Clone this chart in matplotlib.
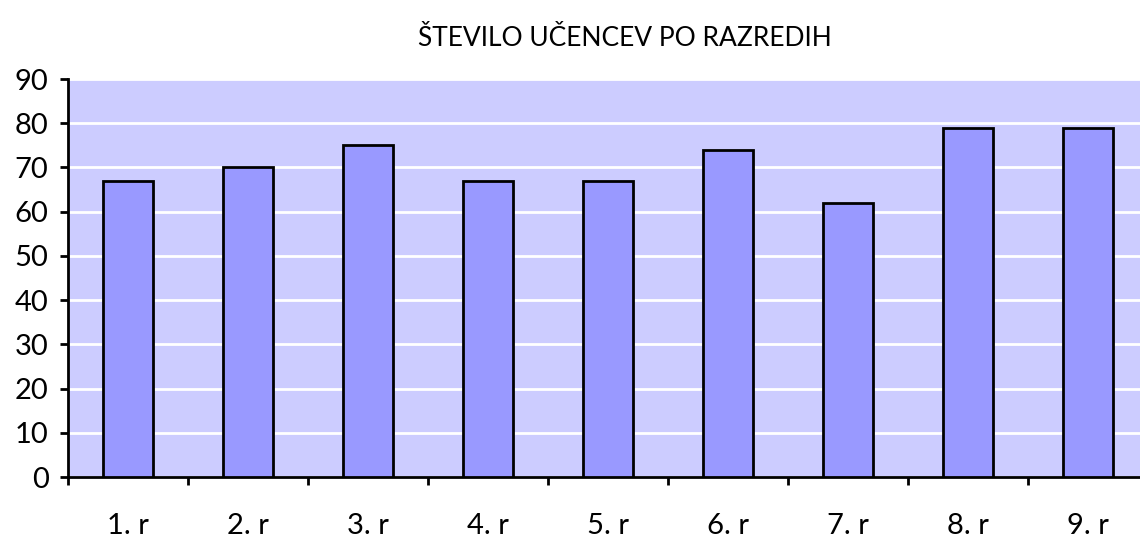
import matplotlib.pyplot as plt

razredi = ['1. r', '2. r', '3. r', '4. r', '5. r', '6. r', '7. r', '8. r', '9. r']
ucenci = [67, 70, 75, 67, 67, 74, 62, 79, 79]

plt.rcParams['font.family'] = ['Lato', 'DejaVu Sans']

fig = plt.figure(figsize=(11.4, 5.39), dpi=100)
ax = fig.add_axes([68/1140, 1-477/539, 1080/1140, 398/539])
ax.set_facecolor('#CCCCFF')

x = list(range(len(razredi)))
ax.bar(x, ucenci, width=0.41, color='#9999FF', edgecolor='black', linewidth=2, zorder=3)

ax.set_xlim(-0.5, len(razredi)-0.5)
ax.set_ylim(0, 90)
ax.set_yticks(range(0, 91, 10))
ax.grid(axis='y', color='white', linewidth=2, zorder=1)
ax.set_axisbelow(True)

# category boundaries get tick marks, labels sit in between
ax.set_xticks([i - 0.5 for i in range(len(razredi)+1)])
ax.set_xticklabels([])
ax.set_xticks(x, minor=True)
ax.set_xticklabels(razredi, minor=True)
ax.tick_params(axis='x', which='major', direction='out', length=6, width=2)
ax.tick_params(axis='x', which='minor', length=0, pad=26, labelsize=21)
ax.tick_params(axis='y', direction='out', length=6, width=2, labelsize=21, pad=8)

for s in ['top', 'right']:
    ax.spines[s].set_visible(False)
for s in ['left', 'bottom']:
    ax.spines[s].set_linewidth(2)

fig.text(625/1140, 1-38/539, 'ŠTEVILO UČENCEV PO RAZREDIH', ha='center', va='center', fontsize=19)

fig.savefig('out.png', dpi=100)
